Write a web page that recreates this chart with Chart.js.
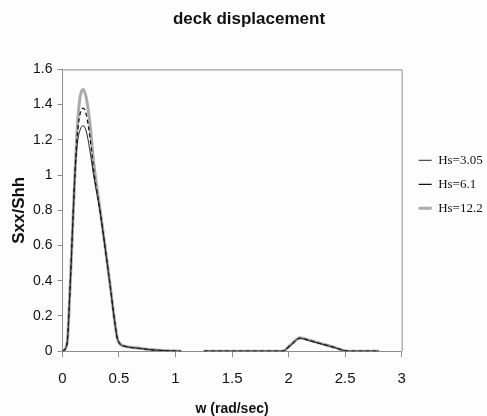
<!DOCTYPE html>
<html>
<head>
<meta charset="utf-8">
<script src="https://cdn.jsdelivr.net/npm/chart.js@4.4.1/dist/chart.umd.min.js"></script>
<style>
  html, body { margin: 0; padding: 0; background: #fdfdfd; }
  #wrap { width: 487px; height: 416px; }
</style>
</head>
<body>
<div id="wrap"><canvas id="c"></canvas></div>
<script>
// frequency samples (rad/sec) and spectral ratio per wave height
const W = [0, 0.03, 0.045, 0.07, 0.11, 0.13, 0.155, 0.183, 0.21, 0.24, 0.28, 0.336, 0.42, 0.484, 0.51, 0.55, 0.65, 0.75, 0.85, 0.95, 1.05, 1.15, 1.25, 1.5, 1.75, 1.945, 2.02, 2.1, 2.2, 2.3, 2.4, 2.53, 2.65, 2.8];
const HS_305 = [0, 0.02, 0.07, 0.4, 1.0, 1.17, 1.255, 1.28, 1.25, 1.15, 0.98, 0.78, 0.38, 0.076, 0.04, 0.028, 0.018, 0.01, 0.005, 0.002, 0, null, 0, 0, 0, 0, 0.035, 0.072, 0.056, 0.039, 0.022, 0, 0, 0];
const HS_61 = [0, 0.02, 0.07, 0.4, 1.0, 1.22, 1.345, 1.38, 1.345, 1.23, 1.01, 0.78, 0.38, 0.076, 0.04, 0.028, 0.018, 0.01, 0.005, 0.002, 0, null, 0, 0, 0, 0, 0.036, 0.074, 0.058, 0.04, 0.022, 0, 0, 0];
const HS_122 = [0, 0.02, 0.07, 0.4, 1.0, 1.26, 1.44, 1.486, 1.44, 1.31, 1.05, 0.79, 0.385, 0.078, 0.041, 0.029, 0.019, 0.011, 0.006, 0.002, 0, null, 0, 0, 0, 0, 0.037, 0.076, 0.06, 0.041, 0.023, 0, 0, 0];
const LABELS = ['Hs=3.05', 'Hs=6.1', 'Hs=12.2'];

const AXIS = '#8c8c8c';
const SANS = "'Liberation Sans', Arial, sans-serif";

const pts = (ys) => W.map((x, i) => ({ x, y: ys[i] }));

// Excel-style plot frame: top and right edges
const frame = {
  id: 'frame',
  afterDraw(chart) {
    const { ctx, chartArea: a } = chart;
    ctx.save();
    ctx.strokeStyle = AXIS;
    ctx.lineWidth = 1;
    ctx.beginPath();
    ctx.moveTo(a.left, a.top + 0.5);
    ctx.lineTo(a.right + 0.5, a.top + 0.5);
    ctx.lineTo(a.right + 0.5, a.bottom);
    ctx.stroke();
    ctx.restore();
  }
};

function series(label, ys, color, width, dash) {
  return {
    label, data: pts(ys), borderColor: color, backgroundColor: color,
    borderWidth: width, borderDash: dash, pointRadius: 0,
    cubicInterpolationMode: 'monotone', spanGaps: false
  };
}

// shorter dashes in the legend sample so it reads as "---"
function legendLabels(chart) {
  return Chart.defaults.plugins.legend.labels.generateLabels(chart)
    .map((l) => (l.lineDash && l.lineDash.length ? { ...l, lineDash: [3, 2], lineWidth: 1.2 } : l));
}

new Chart(document.getElementById('c'), {
  type: 'line',
  data: {
    datasets: [
      series(LABELS[0], HS_305, '#222', 1, []),
      series(LABELS[1], HS_61, '#111', 1.3, [4, 3]),
      series(LABELS[2], HS_122, '#ababab', 3, []),
    ]
  },
  options: {
    responsive: true, maintainAspectRatio: false, animation: false,
    layout: { padding: { left: 11, right: 0, top: 0, bottom: -2 } },
    plugins: {
      title: { display: true, text: 'deck displacement', color: '#111',
        font: { family: SANS, size: 17, weight: 'bold' }, padding: { top: 9, bottom: 40 } },
      legend: {
        position: 'right', align: 'start', fullSize: false,
        title: { display: true, text: '', font: { size: 12 }, padding: { top: 59, bottom: 0 } },
        labels: { usePointStyle: true, pointStyle: 'line', pointStyleWidth: 13, padding: 11, color: '#111',
          generateLabels: legendLabels,
          font: { family: "'Liberation Serif', 'Times New Roman', serif", size: 13 } }
      },
      tooltip: { enabled: false }
    },
    scales: {
      x: {
        type: 'linear', min: 0, max: 3,
        ticks: { stepSize: 0.5, color: '#111', font: { family: SANS, size: 15 }, padding: 13,
          callback: (v) => String(+v.toFixed(1)) },
        grid: { drawOnChartArea: false, drawTicks: true, tickLength: 6, color: AXIS },
        border: { color: AXIS },
        title: { display: true, text: 'w (rad/sec)', color: '#111',
          font: { family: SANS, size: 14, weight: 'bold' }, padding: { top: 0, bottom: 0 } }
      },
      y: {
        min: 0, max: 1.6,
        ticks: { stepSize: 0.2, color: '#111', font: { family: SANS, size: 14 }, padding: 5,
          callback: (v) => String(+v.toFixed(1)) },
        grid: { drawOnChartArea: false, drawTicks: true, tickLength: 5, color: AXIS },
        border: { color: AXIS },
        title: { display: true, text: 'Sxx/Shh', color: '#111',
          font: { family: SANS, size: 17, weight: 'bold', lineHeight: 1 }, padding: { top: 0, bottom: 0 } }
      },
      y2: {
        position: 'right', display: true,
        ticks: { display: false }, grid: { display: false }, border: { display: false },
        afterFit(scale) { scale.width = 6; }
      }
    }
  },
  plugins: [frame]
});
</script>
</body>
</html>
